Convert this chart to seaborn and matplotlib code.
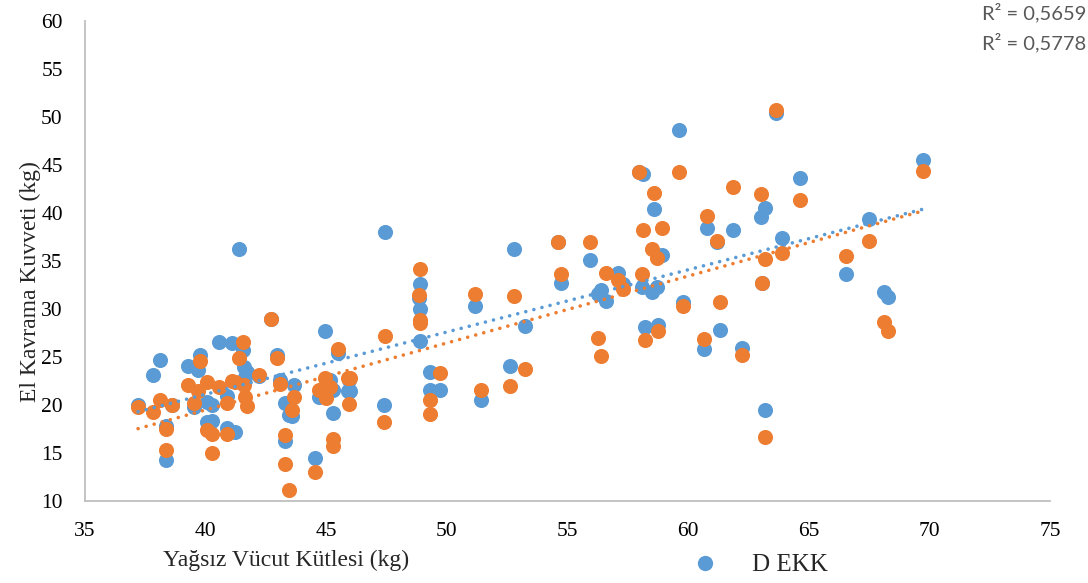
import numpy as np
import pandas as pd
import matplotlib
matplotlib.use("Agg")
import matplotlib.pyplot as plt
from matplotlib.lines import Line2D
import seaborn as sns

# Lean body mass (kg)
lbm = [37.2, 37.8, 38.1, 38.35, 38.35, 38.6, 39.25, 39.5, 39.75, 39.7,
       40.05, 40.05, 40.25, 40.25, 40.55, 40.9, 40.9, 41.2, 41.1, 41.4,
       41.55, 41.6, 41.65, 41.7, 42.2, 42.7, 42.95, 43.1, 43.3, 43.3,
       43.45, 43.65, 43.6, 44.55, 44.7, 44.95, 45.0, 45.15, 45.3, 45.3,
       45.5, 45.9, 45.95, 46.0, 47.4, 47.45, 48.9, 48.85, 48.9, 48.9,
       49.3, 49.3, 49.7, 51.15, 51.4, 52.6, 52.8, 53.25, 54.6, 54.75,
       55.95, 56.25, 56.4, 56.6, 57.1, 57.3, 57.95, 58.15, 58.1, 58.2,
       58.5, 58.6, 58.7, 58.75, 58.9, 59.63, 59.8, 60.66, 60.77, 61.2,
       61.33, 61.88, 62.25, 63.0, 63.2, 63.05, 63.2, 63.65, 63.9, 64.65,
       66.55, 67.5, 68.1, 68.3, 69.75]

# D EKK (blue)
d_ekk = [20.0, 23.1, 24.7, 17.8, 14.3, 20.0, 24.1, 19.8, 25.2, 23.6,
         20.3, 18.2, 20.0, 18.3, 26.6, 20.9, 17.6, 17.2, 26.4, 36.2,
         25.7, 24.0, 22.9, 23.4, 23.0, 28.9, 25.2, 22.6, 16.2, 20.2,
         19.0, 22.1, 18.9, 14.5, 20.85, 27.7, 21.5, 22.6, 19.2, 21.55,
         25.4, 21.4, 22.6, 21.4, 20.0, 38.0, 32.55, 31.1, 30.0, 26.7,
         23.45, 21.55, 21.55, 30.3, 20.5, 24.1, 36.2, 28.2, 37.0, 32.7,
         35.1, 31.6, 31.95, 30.8, 33.7, 32.6, 44.2, 44.0, 32.3, 28.1,
         31.8, 40.4, 32.3, 28.3, 35.6, 48.6, 30.7, 25.8, 38.4, 37.0,
         27.8, 38.2, 25.9, 39.6, 40.45, 32.7, 19.5, 50.4, 37.4, 43.6,
         33.6, 39.35, 31.8, 31.2, 45.5]

# Second series (orange)
nd_ekk = [19.8, 19.3, 20.5, 17.5, 15.3, 20.0, 22.1, 20.2, 24.6, 21.5,
          22.4, 17.4, 17.0, 15.0, 21.9, 20.2, 17.0, 22.4, 22.5, 24.85,
          26.6, 22.1, 20.85, 19.9, 23.1, 28.9, 24.9, 22.2, 16.9, 13.9,
          11.1, 20.85, 19.5, 13.0, 21.6, 22.8, 20.7, 21.9, 16.5, 15.7,
          25.8, 22.8, 20.1, 22.8, 18.2, 27.2, 34.2, 31.4, 28.8, 28.5,
          20.5, 19.1, 23.35, 31.6, 21.6, 22.0, 31.3, 23.7, 37.0, 33.6,
          37.0, 27.0, 25.1, 33.7, 33.0, 32.1, 44.3, 38.2, 33.6, 26.75,
          36.2, 42.1, 35.3, 27.7, 38.4, 44.2, 30.3, 26.9, 39.7, 37.05,
          30.7, 42.7, 25.2, 41.95, 35.2, 32.7, 16.7, 50.75, 35.8, 41.3,
          35.5, 37.05, 28.65, 27.7, 44.4]

x_ticks = [35, 40, 45, 50, 55, 60, 65, 70, 75]
y_ticks = [10, 15, 20, 25, 30, 35, 40, 45, 50, 55, 60]
r2_labels = ["R² = 0,5659", "R² = 0,5778"]

BLUE = "#5B9BD5"
ORANGE = "#ED7D31"

sns.set_theme(style="white")
plt.rcParams["font.family"] = ["Liberation Serif", "DejaVu Serif"]

df = pd.DataFrame({"lbm": lbm, "d": d_ekk, "nd": nd_ekk})

fig = plt.figure(figsize=(10.88, 5.83), dpi=100)
ax = fig.add_axes([85 / 1088, 1 - 501 / 583, (1050 - 85) / 1088, (501 - 20.7) / 583])

sns.scatterplot(data=df, x="lbm", y="d", color=BLUE, s=118, linewidth=0,
                ax=ax, zorder=2)
sns.scatterplot(data=df, x="lbm", y="nd", color=ORANGE, s=118, linewidth=0,
                ax=ax, zorder=3)

dot_kws = dict(linewidth=2.6, linestyle=(0, (0.01, 2.3)),
               dash_capstyle="round", solid_capstyle="round")
sns.regplot(data=df, x="lbm", y="d", scatter=False, ci=None, ax=ax,
            line_kws=dict(color=BLUE, zorder=4, **dot_kws))
sns.regplot(data=df, x="lbm", y="nd", scatter=False, ci=None, ax=ax,
            line_kws=dict(color=ORANGE, zorder=4, **dot_kws))

ax.set_xlim(35, 75)
ax.set_ylim(10, 60)
ax.set_xticks(x_ticks)
ax.set_yticks(y_ticks)
ax.tick_params(axis="both", length=0, labelsize=15.5, colors="#000000")
ax.tick_params(axis="x", pad=15)
ax.tick_params(axis="y", pad=16)

for side in ["top", "right"]:
    ax.spines[side].set_visible(False)
for side in ["left", "bottom"]:
    ax.spines[side].set_color("#BFBFBF")
    ax.spines[side].set_linewidth(1.3)
ax.grid(False)
ax.set_xlabel("")
ax.set_ylabel("")

fig.text(286 / 1088, 1 - 560 / 583, "Yağsız Vücut Kütlesi (kg)", ha="center",
         va="center", fontsize=17)
fig.text(30 / 1088, 1 - 282 / 583, "El Kavrama Kuvveti (kg)", ha="center",
         va="center", rotation=90, fontsize=17)

for i, lab in enumerate(r2_labels):
    fig.text(1086 / 1088, 1 - (13 + 30 * i) / 583, lab, ha="right", va="center",
             fontsize=14.5, color="#595959", family=["Lato", "DejaVu Sans"])

handle = Line2D([], [], marker="o", linestyle="none", markersize=11,
                markerfacecolor=BLUE, markeredgewidth=0)
fig.legend(handles=[handle], labels=["D EKK"], loc="center left",
           bbox_to_anchor=(680 / 1088, 1 - 565 / 583), frameon=False,
           fontsize=18, handletextpad=0.9, borderpad=0, borderaxespad=0)

fig.savefig("out.png", dpi=100)
